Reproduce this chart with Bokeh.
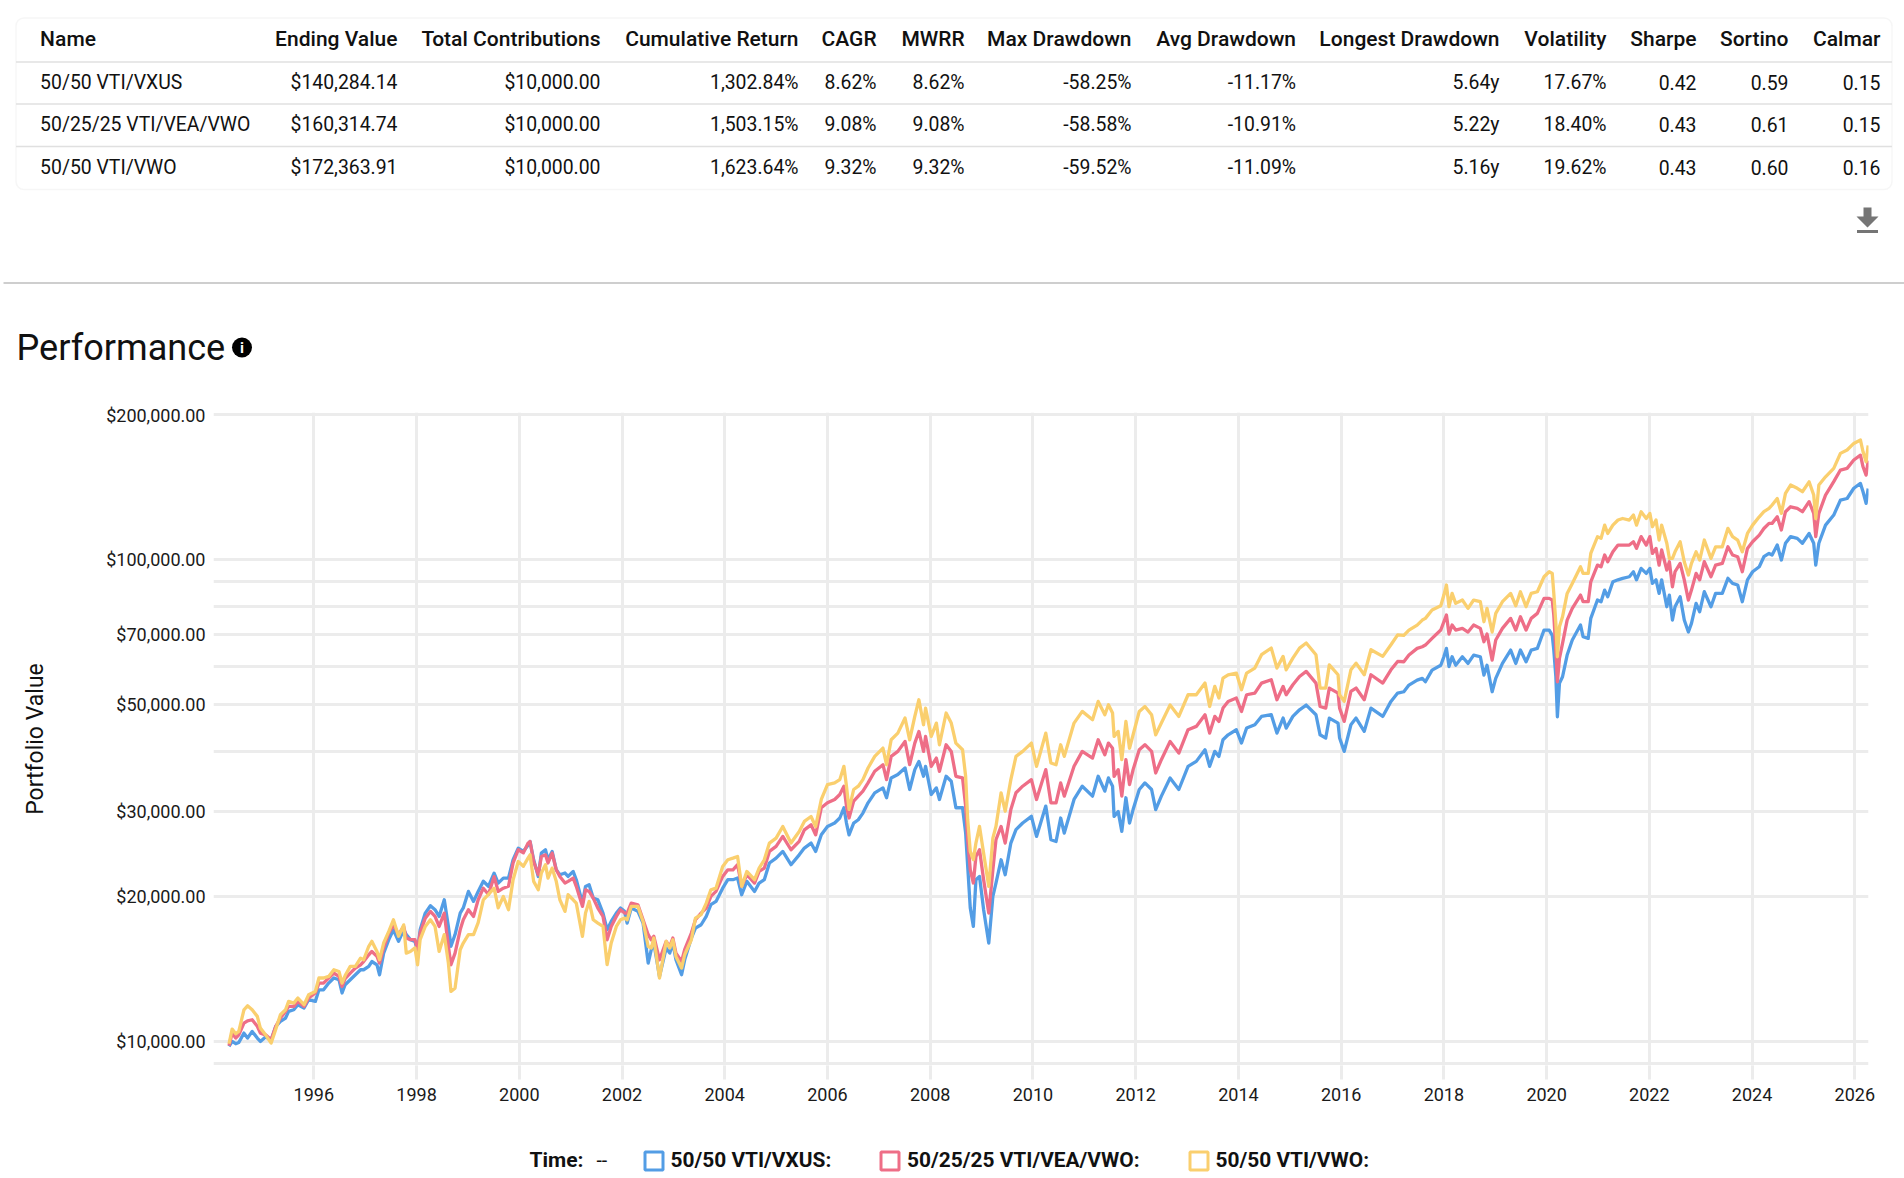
from bokeh.embed import file_html
from bokeh.resources import INLINE
from bokeh.plotting import figure
from bokeh.layouts import column
from bokeh.models import Range1d, FixedTicker, NumeralTickFormatter, BoxAnnotation, ColumnDataSource
from bokeh.core.properties import value

# ---------- data ----------
headers = ["Name", "Ending Value", "Total Contributions", "Cumulative Return", "CAGR", "MWRR", "Max Drawdown",
           "Avg Drawdown", "Longest Drawdown", "Volatility", "Sharpe", "Sortino", "Calmar"]
row_vxus = ["50/50 VTI/VXUS", "$140,284.14", "$10,000.00", "1,302.84%", "8.62%", "8.62%", "-58.25%", "-11.17%", "5.64y", "17.67%", "0.42", "0.59", "0.15"]
row_vea = ["50/25/25 VTI/VEA/VWO", "$160,314.74", "$10,000.00", "1,503.15%", "9.08%", "9.08%", "-58.58%", "-10.91%", "5.22y", "18.40%", "0.43", "0.61", "0.15"]
row_vwo = ["50/50 VTI/VWO", "$172,363.91", "$10,000.00", "1,623.64%", "9.32%", "9.32%", "-59.52%", "-11.09%", "5.16y", "19.62%", "0.43", "0.60", "0.16"]

series_names = ["50/50 VTI/VXUS", "50/25/25 VTI/VEA/VWO", "50/50 VTI/VWO"]
year_ticks = [1996, 1998, 2000, 2002, 2004, 2006, 2008, 2010, 2012, 2014, 2016, 2018, 2020, 2022, 2024, 2026]
label_ticks = [10000, 20000, 30000, 50000, 70000, 100000, 200000]
grid_ticks = [9000, 10000, 20000, 30000, 40000, 50000, 60000, 70000, 80000, 90000, 100000, 200000]

dates = [
 1994.35,1994.41,1994.48,1994.54,1994.64,1994.71,1994.80,1994.90,1994.96,1995.06,1995.17,1995.26,1995.35,1995.45,1995.51,1995.61,1995.69,1995.81,1995.90,
 1996.03,1996.10,1996.19,1996.29,1996.39,1996.49,1996.55,1996.61,1996.71,1996.81,1996.91,1996.97,1997.07,1997.13,1997.23,1997.28,1997.36,1997.46,1997.55,1997.65,1997.75,1997.80,1997.88,1997.97,
 1998.02,1998.07,1998.17,1998.27,1998.36,1998.44,1998.54,1998.62,1998.67,1998.75,1998.85,1998.91,1999.01,1999.11,1999.20,1999.30,1999.40,1999.51,1999.59,1999.69,1999.79,1999.88,1999.98,2000.08,2000.17,
 2000.21,2000.28,2000.37,2000.43,2000.51,2000.56,2000.64,2000.72,2000.79,2000.89,2000.95,2001.05,2001.11,2001.23,2001.29,2001.36,2001.44,2001.53,2001.63,2001.71,2001.79,2001.89,2001.97,
 2002.05,2002.10,2002.18,2002.31,2002.41,2002.51,2002.57,2002.62,2002.73,2002.86,2002.93,2002.99,2003.05,2003.16,2003.22,2003.35,2003.43,2003.54,2003.64,2003.73,2003.83,2003.96,
 2004.06,2004.16,2004.25,2004.33,2004.43,2004.58,2004.67,2004.77,2004.87,2005.00,2005.13,2005.29,2005.45,2005.55,2005.68,2005.77,
 2005.88,2006.00,2006.14,2006.24,2006.32,2006.37,2006.42,2006.51,2006.60,2006.69,2006.79,2006.92,2007.08,2007.15,2007.24,2007.37,2007.51,2007.60,2007.70,2007.78,2007.87,2007.91,
 2008.02,2008.12,2008.18,2008.31,2008.41,2008.50,2008.63,2008.69,2008.73,2008.78,2008.84,2008.89,2008.96,2009.04,2009.14,2009.22,2009.28,2009.38,2009.46,2009.57,2009.67,2009.80,2009.97,
 2010.07,2010.25,2010.35,2010.45,2010.54,2010.61,2010.80,2010.96,2011.16,2011.27,2011.40,2011.47,
 2011.55,2011.58,2011.66,2011.73,2011.81,2011.88,2011.95,2012.07,2012.18,2012.31,2012.39,2012.50,2012.67,2012.84,2013.02,2013.18,2013.35,2013.44,2013.54,2013.62,2013.70,2013.80,2013.96,
 2014.06,2014.16,2014.32,2014.45,2014.64,2014.75,2014.87,2014.93,2015.06,2015.19,2015.32,2015.51,2015.59,2015.70,2015.77,2015.94,2015.97,2016.06,2016.19,2016.29,2016.45,2016.58,2016.81,2016.97,2017.10,
 2017.22,2017.32,2017.48,2017.58,2017.64,2017.77,2017.94,2018.00,2018.05,2018.10,2018.16,2018.23,2018.36,2018.47,2018.58,2018.71,2018.78,2018.84,2018.94,2019.01,2019.14,2019.30,2019.40,2019.49,2019.60,2019.70,2019.82,2019.95,
 2020.05,2020.11,2020.14,2020.18,2020.21,2020.25,2020.31,2020.40,2020.50,2020.66,2020.71,2020.81,2020.86,2020.99,
 2021.06,2021.13,2021.19,2021.29,2021.39,2021.48,2021.61,2021.69,2021.75,2021.84,2021.94,2022.01,2022.06,2022.13,2022.19,2022.24,2022.34,2022.39,2022.45,2022.50,2022.60,2022.68,2022.76,2022.82,2022.91,2022.98,
 2023.07,2023.20,2023.29,2023.42,2023.53,2023.62,2023.72,2023.81,2023.91,2024.01,2024.14,2024.23,2024.33,2024.39,2024.49,2024.57,2024.65,2024.75,2024.88,2024.98,
 2025.11,2025.20,2025.24,2025.30,2025.43,2025.59,2025.72,2025.85,2025.98,2026.11,2026.16,2026.22,2026.26,
]

vti_vxus = [
 9750,9985,9875,9935,10390,10145,10475,10145,9985,10195,10065,10730,10985,11165,11525,11615,11900,11710,12190,12090,12780,12780,13195,13520,13410,12585,13090,13410,13730,14065,14065,14290,14630,14400,13730,15230,16240,17020,16110,17020,16640,16240,16110,15350,17020,18440,19100,18740,18150,19650,17300,15735,16640,18440,18900,20450,19500,20450,21470,20960,22310,21280,21800,21800,23800,25140,24770,25500,
 25970,23790,21970,24560,24960,23790,24760,22680,22150,22330,21970,22500,21630,19340,20950,21120,19810,19650,18440,17030,17720,18440,18890,18590,17580,18890,18590,17580,14520,15480,15980,13620,15600,15230,15980,14750,13730,14750,16370,17160,17440,18150,19190,19500,20770,21630,21630,21800,20130,21460,20450,21290,21630,23430,23980,24760,23240,24360,25160,25770,24760,
 26810,27900,28360,29050,30510,28360,26810,28360,28810,29740,31240,32770,33550,32000,35180,35750,36900,33290,36610,38080,35460,37190,32510,33550,31740,35460,34630,30510,30510,27030,23050,18890,17300,21630,21970,18740,15980,19970,21290,23790,22150,25770,27470,28360,29280,26600,30750,26180,25970,29050,27030,31740,33820,32250,35460,33030,35180,
 33820,29270,29950,27250,32000,28360,30240,33290,34360,33290,30240,32250,35180,33290,37190,38080,40260,37190,39940,39000,42240,43240,44300,41570,44650,45370,47210,47590,43600,46840,44650,47210,48730,49840,47590,43240,42570,46840,45730,42570,39940,45370,46840,43950,49120,47210,50720,52780,
 53120,54850,56170,56620,55720,58900,60300,62790,65350,59920,62790,60300,62790,60820,63300,62790,57520,60300,53120,56620,60820,64830,60820,64830,61310,64830,65350,71340,71340,69550,64830,57070,47140,55280,57070,63300,68010,73060,69100,68550,75430,82340,
 81690,86360,83650,89850,90700,91350,92040,94270,90700,95790,93520,95790,89170,90700,85000,90700,79760,84320,74830,79760,83650,74830,70670,73650,81040,77870,85680,79760,85000,85000,91350,89170,88460,81690,90700,94270,96550,101300,102900,102100,107100,99700,108000,111500,110600,108000,113200,108000,97300,108000,117800,123600,132800,133800,140500,143800,138200,130700,140284,
]

vti_vea_vwo = [
 9780,10390,10145,10305,10900,11020,11075,10730,10390,10305,10065,10730,11165,11525,11805,11805,12090,11805,12285,12585,13195,13195,13520,13840,13625,12985,13480,13840,14180,14400,14630,15110,15350,14990,14520,15610,16775,17430,16640,17300,16380,16240,16240,15480,16775,18000,18590,18150,17300,18440,15735,14400,15230,17020,17860,18740,18150,19650,20770,20160,21950,20450,20770,20960,23440,24960,24590,25760,
 25970,23600,22150,24170,24360,23430,24560,22680,21970,21290,21460,21800,20950,19040,20610,20450,19810,18890,18150,16230,17300,18150,18740,18440,18440,19340,19190,17860,16630,16230,16500,14750,16110,15720,16370,15230,14630,15480,16760,17860,18440,18890,19970,20450,21970,22680,22680,23240,20950,22150,21290,22500,22860,24760,25360,26600,24960,25970,27450,28120,26810,
 30510,31240,31740,32510,33820,30750,29050,31490,32250,33030,34360,36320,37480,34900,39000,39940,41890,37480,41560,43940,39940,42900,37190,38690,36320,41230,39940,35460,35180,30750,26180,22680,21290,24170,24960,21630,18440,22680,26180,27900,25770,30260,32770,33820,34900,31740,36610,31240,31240,34360,32250,37190,39940,38690,42220,39310,41560,
 40550,35460,36610,32250,38390,34090,36610,40260,41240,39940,36030,38390,41900,39620,44300,45010,47590,43600,47210,46100,49120,50720,51540,48350,52360,52780,55360,56250,51130,54500,52360,54930,57150,58540,55360,49510,49120,54060,52780,49120,46100,53200,54060,51130,57610,55360,59000,61400,
 61310,63300,65350,65870,66400,68550,71340,74240,76640,70000,73060,71340,71910,70670,73060,71910,67470,70000,61800,68010,71910,75430,71340,76030,71340,75430,77250,82990,82990,82340,76640,64830,55720,62290,66930,74830,79130,84320,81690,81690,89850,97300,
 96550,102100,98900,103700,107100,107100,107100,108800,105400,111500,107100,111500,102900,105400,97300,104600,95030,98900,87750,94270,98100,90700,82340,86360,93520,90700,98900,92040,97300,98100,106200,102100,101300,94270,105400,108800,112300,115900,118800,118800,122600,115100,125600,128600,127600,125600,131800,124600,111500,124600,136000,145000,153300,154500,160800,164600,155700,149600,160315,
]

vti_vwo = [
 9875,10590,10355,10475,11615,11840,11615,11255,10640,10305,9905,10590,11340,11615,12090,11990,12285,11900,12480,12680,13520,13520,13625,14065,13950,13195,13680,14290,14290,14870,14755,15735,16110,15350,14755,15980,16890,17860,16510,17430,15230,15350,15610,14400,16240,17300,17860,17300,15350,16640,14520,12680,12880,15480,15980,16640,16640,17620,19650,20160,20770,18900,19960,18740,21630,23600,23060,23980,
 24360,21460,20610,22330,23240,21800,22860,21460,19650,18590,20130,19650,19340,16500,18440,19500,17860,17580,17300,14410,15980,17300,17860,18000,17860,19040,19040,17720,15720,15600,16370,13520,16110,15600,16230,14990,14180,15110,16230,18000,18300,19340,20610,20770,23050,23790,23980,24170,20950,22500,21630,22860,23790,25770,26390,27900,25770,27230,28580,29260,27900,
 31740,34080,34360,34900,37190,33820,30260,33290,33820,34900,36900,39000,40580,37480,42220,43590,46840,42220,47230,51130,45370,49120,42900,45730,41230,47980,45730,41560,40260,35460,28810,24760,23790,25770,27900,24560,20950,26390,27900,32770,30010,34900,39000,39940,41560,37190,43590,37780,37480,41230,39000,45730,48360,46460,50720,47600,49930,
 47970,42900,43950,38390,46100,40550,43240,48350,49510,47590,43240,45730,49840,47210,52360,52360,55360,49510,54500,51540,56700,57610,58070,53620,58070,59490,63400,65450,59490,62900,59000,62400,65450,67040,63400,54060,54060,60400,57610,52360,50720,59000,60900,57610,64940,62900,66500,69730,
 69550,71340,73060,74830,75430,78500,80130,84320,88460,79760,85000,81040,82340,79130,82340,81690,74240,79130,70670,77250,81690,85000,80130,85680,79760,85000,85680,92040,94270,93520,85000,73650,62790,72480,76030,85000,89170,96550,93520,93520,102900,111440,
 110600,117800,113200,117800,120700,121600,120700,123600,117800,125600,121600,124600,116900,120700,109700,117800,108000,100500,100500,103700,108800,98900,92800,98100,103700,99700,109700,100500,106200,106200,116000,111500,109700,103700,113200,117800,122600,125600,127600,129700,133800,124600,137100,142700,140500,138200,144900,136000,121600,142700,148400,154500,166000,168700,174100,176900,167300,159500,172364,
]

assert len(dates) == len(vti_vxus) == len(vti_vea_vwo) == len(vti_vwo)

# ---------- style ----------
FONT = "Roboto"
MED = "Roboto Medium, Roboto"
INK = "#1a1a1a"
GRID = "#ECECEC"
EDGE = "#E0E0E0"
COLORS = ["#539DE5", "#EE6E87", "#FACF6E"]
FIG_W = 1904


def canvas(height, y_top, y_bottom):
    f = figure(width=FIG_W, height=height, output_backend="svg", toolbar_location=None,
               x_range=Range1d(0, FIG_W), y_range=Range1d(y_bottom, y_top),
               x_axis_location=None, y_axis_location=None,
               min_border=0, min_border_left=0, min_border_right=0, min_border_top=0, min_border_bottom=0)
    f.grid.visible = False
    f.outline_line_color = None
    f.frame_align = False
    return f


# ---------- top panel: table, divider, title (page pixel coordinates) ----------
top = canvas(404, 0, 404)
top.add_layout(BoxAnnotation(left=15.5, right=1891.5, top=17.5, bottom=189, fill_alpha=0,
                             line_color=EDGE, line_width=1.5, border_radius=8))
for yy in [61.5, 103.5, 146.0]:
    top.segment(x0=[15.5], x1=[1891.5], y0=[yy], y1=[yy], line_color=EDGE, line_width=1.5)

col_right = [0, 397, 600, 798, 876, 964, 1131, 1295.5, 1499, 1606, 1696, 1788, 1880]
row_y = [82.0, 124.0, 167.0]
NAME_X = 39.6
hdr_src = ColumnDataSource(dict(x=[NAME_X] + col_right[1:], y=[38] * 13, t=headers,
                                a=["left"] + ["right"] * 12))
top.text(x="x", y="y", text="t", text_align="a", source=hdr_src, text_baseline="middle",
         text_font=value(MED), text_font_size="21px", text_color="#111111")
for row, ry in zip([row_vxus, row_vea, row_vwo], row_y):
    src = ColumnDataSource(dict(x=[NAME_X] + col_right[1:], y=[ry] * 13, t=row,
                                a=["left"] + ["right"] * 12))
    top.text(x="x", y="y", text="t", text_align="a", source=src, text_baseline="middle",
             text_font=value(FONT), text_font_size="19.4px", text_color="#111111")

# download icon
top.patch(x=[1863, 1871, 1871, 1878, 1867, 1856, 1863], y=[207, 207, 216, 216, 227, 216, 216], color="#757575", line_width=0)
top.quad(left=[1856.5], right=[1877.5], top=[229.5], bottom=[232.5], color="#757575", line_width=0)

# divider
top.segment(x0=[3], x1=[1904], y0=[282.5], y1=[282.5], line_color="#9E9E9E", line_width=1.2)

# title
top.text(x=[16], y=[347.5], text=["Performance"], text_baseline="middle", text_font=value(FONT),
         text_font_size="36.1px", text_color="#111111")
top.scatter(x=[241.5], y=[347], size=20, color="#000000", line_width=0)
top.text(x=[241.5], y=[347.5], text=["i"], text_align="center", text_baseline="middle", text_font=value(FONT),
         text_font_style="bold", text_font_size="15px", text_color="#ffffff")

# ---------- chart ----------
PX_DECADE = 481.7
Y10K = 1040.6
FRAME_TOP, FRAME_BOTTOM = 412, 1065
FRAME_L, FRAME_R = 213, 1868
PX_YEAR = 51.367
X1996 = 313.3
ORIGIN_Y = 404
CHART_H = 724

y_start = 10 ** (4 - (FRAME_BOTTOM - Y10K) / PX_DECADE)
y_end = 10 ** (4 + (Y10K - FRAME_TOP) / PX_DECADE)
x_start = 1996 + (FRAME_L - X1996) / PX_YEAR
x_end = 1996 + (FRAME_R - X1996) / PX_YEAR

chart = figure(width=FIG_W, height=CHART_H, output_backend="svg", toolbar_location=None,
               y_axis_type="log", x_range=Range1d(x_start, x_end), y_range=Range1d(y_start, y_end),
               min_border_left=FRAME_L, min_border_right=FIG_W - FRAME_R,
               min_border_top=FRAME_TOP - ORIGIN_Y, min_border_bottom=ORIGIN_Y + CHART_H - FRAME_BOTTOM)
chart.outline_line_color = None
chart.frame_align = False

xa = chart.xaxis[0]
xa.ticker = FixedTicker(ticks=year_ticks)
xa.axis_line_color = None
xa.major_tick_in = 0
xa.major_tick_out = 14
xa.major_tick_line_color = GRID
xa.major_tick_line_width = 3
xa.minor_tick_line_color = None
xa.major_label_standoff = 8
xa.major_label_text_font = FONT
xa.major_label_text_font_size = "18px"
xa.major_label_text_color = INK

ya = chart.yaxis[0]
ya.ticker = FixedTicker(ticks=label_ticks)
ya.formatter = NumeralTickFormatter(format="$0,0.00")
ya.axis_line_color = None
ya.major_tick_line_color = None
ya.minor_tick_line_color = None
ya.major_tick_in = 0
ya.major_tick_out = 0
ya.major_label_standoff = 8
ya.major_label_text_font = FONT
ya.major_label_text_font_size = "18px"
ya.major_label_text_color = INK
ya.axis_label = "Portfolio Value"
ya.axis_label_text_font = FONT
ya.axis_label_text_font_style = "normal"
ya.axis_label_text_font_size = "23px"
ya.axis_label_text_color = "#111111"
ya.axis_label_standoff = 54

chart.xgrid[0].ticker = FixedTicker(ticks=year_ticks)
chart.ygrid[0].ticker = FixedTicker(ticks=grid_ticks)
for g in (chart.xgrid[0], chart.ygrid[0]):
    g.grid_line_color = GRID
    g.grid_line_width = 3

for vals, col, name in zip([vti_vxus, vti_vea_vwo, vti_vwo], COLORS, series_names):
    chart.line(dates, vals, line_color=col, line_width=3.3, line_join="round", name=name)

# ---------- bottom legend strip ----------
leg = canvas(50, 1128, 1178)
leg.text(x=[529], y=[1159], text=["Time:"], text_baseline="middle", text_font=value(FONT), text_font_style="bold",
         text_font_size="21px", text_color="#111111")
leg.text(x=[596], y=[1159], text=["--"], text_baseline="middle", text_font=value(FONT),
         text_font_size="19.4px", text_color="#111111")
box_left = [643, 879, 1188]
text_left = [670, 906.6, 1215]
for bl, tl, col, nm in zip(box_left, text_left, COLORS, series_names):
    leg.quad(left=[bl + 1.5], right=[bl + 19.5], top=[1151.5], bottom=[1169.5], fill_color=None,
             line_color=col, line_width=3)
    leg.text(x=[tl], y=[1159], text=[nm + ":"], text_baseline="middle", text_font=value(FONT), text_font_style="bold",
             text_font_size="20.9px", text_color="#111111")

page = column(top, chart, leg, spacing=0)
open("out.html", "w").write(file_html(page, INLINE))
